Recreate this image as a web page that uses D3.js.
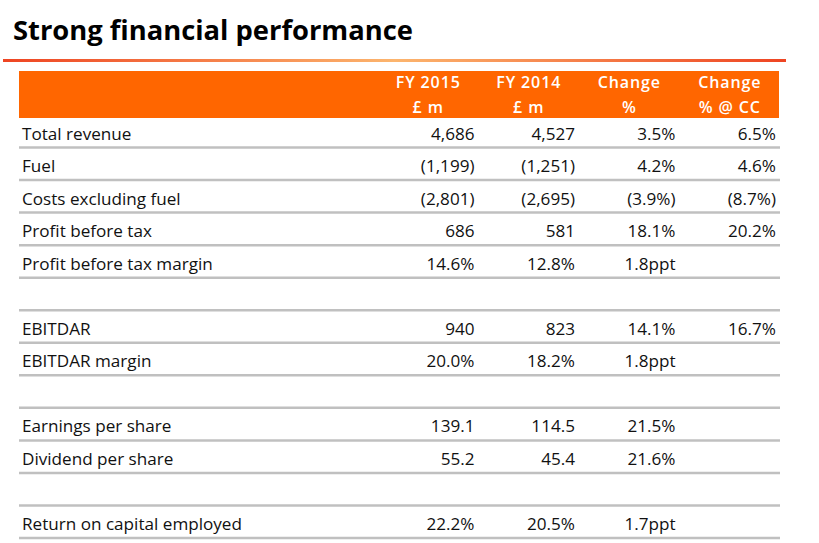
<!DOCTYPE html>
<html><head><meta charset="utf-8">
<script src="https://cdn.jsdelivr.net/npm/d3@7"></script>
<style>html,body{margin:0;padding:0;background:#fff;}svg{display:block;}</style>
</head><body>
<script>
const title = "Strong financial performance";
const headerLine1 = ["FY 2015", "FY 2014", "Change", "Change"];
const headerLine2 = ["£ m", "£ m", "%", "% @ CC"];
const rowLabels = ["Total revenue", "Fuel", "Costs excluding fuel", "Profit before tax", "Profit before tax margin", "",
  "EBITDAR", "EBITDAR margin", "", "Earnings per share", "Dividend per share", "", "Return on capital employed"];
const fy2015 = ["4,686", "(1,199)", "(2,801)", "686", "14.6%", "", "940", "20.0%", "", "139.1", "55.2", "", "22.2%"];
const fy2014 = ["4,527", "(1,251)", "(2,695)", "581", "12.8%", "", "823", "18.2%", "", "114.5", "45.4", "", "20.5%"];
const changePct = ["3.5%", "4.2%", "(3.9%)", "18.1%", "1.8ppt", "", "14.1%", "1.8ppt", "", "21.5%", "21.6%", "", "1.7ppt"];
const changeCC = ["6.5%", "4.6%", "(8.7%)", "20.2%", "", "", "16.7%", "", "", "", "", "", ""];

const W = 819, H = 543;
const FONT = "'Open Sans', 'DejaVu Sans', sans-serif";
const svg = d3.select("body").append("svg").attr("width", W).attr("height", H);

// gradient for rule under title
const defs = svg.append("defs");
const g = defs.append("linearGradient").attr("id", "rule").attr("x1", "0%").attr("x2", "100%");
g.append("stop").attr("offset", "0%").attr("stop-color", "#ee4422");
g.append("stop").attr("offset", "50%").attr("stop-color", "#fcb56e");
g.append("stop").attr("offset", "100%").attr("stop-color", "#ee4422");

function fitSize(text, weight, targetWidth) {
  const t = svg.append("text").attr("font-family", FONT).attr("font-weight", weight)
    .attr("font-size", 100).text(text);
  const w = t.node().getComputedTextLength();
  t.remove();
  return 100 * targetWidth / w;
}

// title
svg.append("text").attr("x", 13).attr("y", 40)
  .attr("font-family", FONT).attr("font-weight", 700)
  .attr("font-size", fitSize(title, 700, 400))
  .attr("fill", "#000").text(title);

svg.append("rect").attr("x", 3).attr("y", 59).attr("width", 783).attr("height", 3).attr("fill", "url(#rule)");

// scales
const cols = d3.range(4);
const x = d3.scaleBand().domain(cols).range([378, 780]);
const rows = d3.range(rowLabels.length);
const y = d3.scaleBand().domain(rows).range([115, 538]);

const tableLeft = 19, tableRight = 780;

// header band
svg.append("rect").attr("x", tableLeft).attr("y", 71).attr("width", 779 - tableLeft).attr("height", 47).attr("fill", "#ff6600");

const headSize = 16;
const hdr = svg.append("g").attr("font-family", FONT).attr("font-weight", 600)
  .attr("font-size", headSize).attr("letter-spacing", 0.9).attr("fill", "#fff").attr("text-anchor", "middle");
hdr.selectAll("text.l1").data(headerLine1).join("text").attr("class", "l1")
  .attr("x", (d, i) => x(i) + x.bandwidth() / 2).attr("y", 88).text(d => d);
hdr.selectAll("text.l2").data(headerLine2).join("text").attr("class", "l2")
  .attr("x", (d, i) => x(i) + x.bandwidth() / 2).attr("y", 113).text(d => d);

// row separator lines
svg.append("g").selectAll("line").data(rows).join("line")
  .attr("x1", tableLeft).attr("x2", tableRight)
  .attr("y1", d => y(d) + y.bandwidth()).attr("y2", d => y(d) + y.bandwidth())
  .attr("stroke", "#c0c0c0").attr("stroke-width", 2.5);

const bodySize = fitSize("Return on capital employed", 400, 220);
const body = svg.append("g").attr("font-family", FONT).attr("font-size", bodySize).attr("fill", "#111");

body.selectAll("text.lab").data(rowLabels).join("text").attr("class", "lab")
  .attr("x", 22).attr("y", (d, i) => y(i) + y.bandwidth() - 8).text(d => d);

const columns = [fy2015, fy2014, changePct, changeCC];
columns.forEach((vals, c) => {
  body.append("g").attr("text-anchor", "end").selectAll("text").data(vals).join("text")
    .attr("x", x(c) + x.bandwidth() - 4)
    .attr("y", (d, i) => y(i) + y.bandwidth() - 8).text(d => d);
});
</script>
</body></html>
